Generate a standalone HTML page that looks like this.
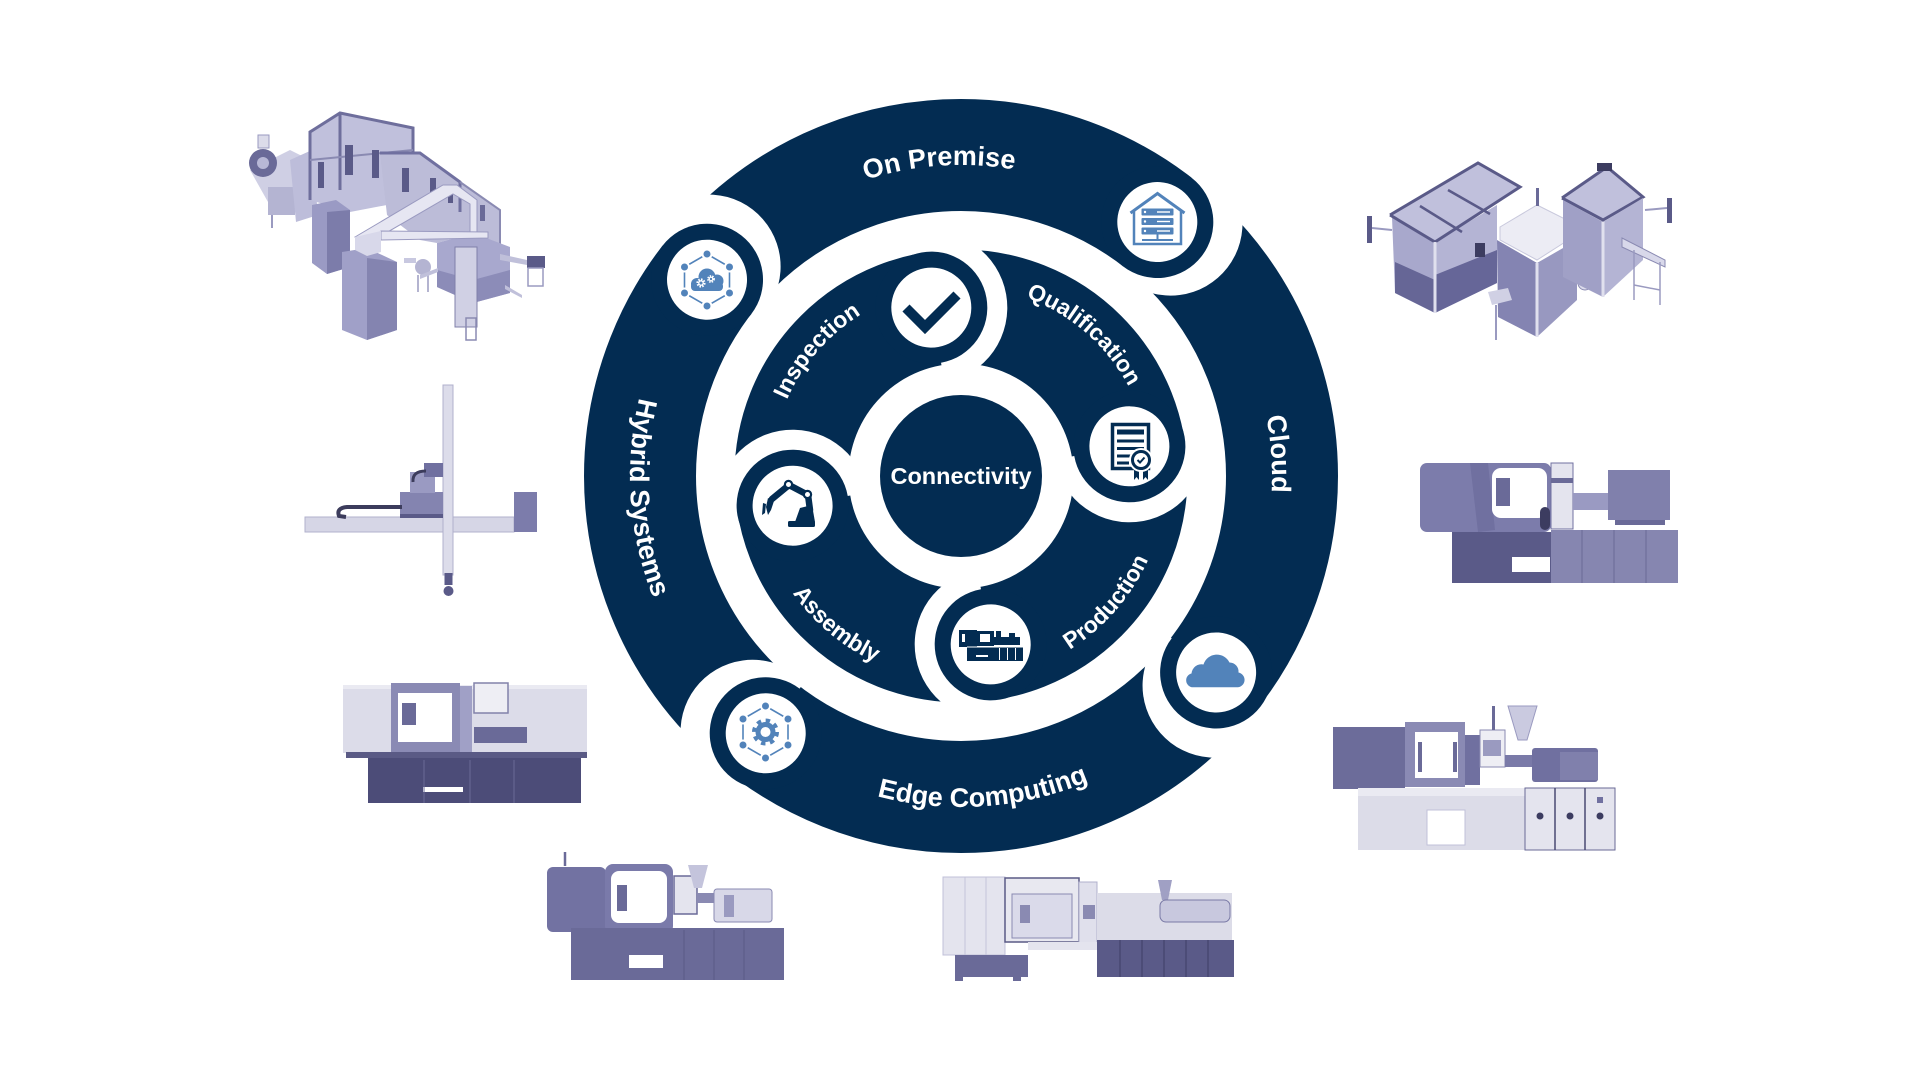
<!DOCTYPE html>
<html><head><meta charset="utf-8"><style>
html,body{margin:0;padding:0;background:#fff;}
svg{display:block;}
</style></head><body>
<svg width="1920" height="1080" viewBox="0 0 1920 1080" xmlns="http://www.w3.org/2000/svg">
<defs>
<clipPath id="cw"><rect x="961" y="476" width="520" height="420"/></clipPath>
<path id="pOn" d="M744.95,252.3 A311,311 0 0 1 1143.81,224.4"/>
<path id="pCl" d="M1184.7,259.95 A311,311 0 0 1 1212.6,658.81"/>
<path id="pEd" d="M766.44,743.78 A331,331 0 0 0 1190.95,714.09"/>
<path id="pHy" d="M693.22,281.44 A331,331 0 0 0 722.91,705.95"/>
<path id="pIn" d="M771.03,472.68 A190,190 0 0 1 931.28,288.34"/>
<path id="pQu" d="M964.32,286.03 A190,190 0 0 1 1148.66,446.28"/>
<path id="pPr" d="M993.07,678.48 A205,205 0 0 0 1165.97,479.58"/>
<path id="pAs" d="M759.11,511.6 A205,205 0 0 0 961,681"/>
</defs>

<!-- ================= MACHINES ================= -->
<!-- M1 top-left assembly line -->
<g>
 <polygon points="250,170 290,150 320,165 305,196 268,202" fill="#cfcfe4"/>
 <rect x="268" y="187" width="27" height="28" fill="#b4b4d2"/>
 <line x1="272" y1="215" x2="272" y2="228" stroke="#9a9ac0" stroke-width="2"/>
 <circle cx="263" cy="163" r="14" fill="#6a6a98"/><circle cx="263" cy="163" r="6" fill="#b8b8d6"/>
 <rect x="258" y="135" width="11" height="13" fill="#dcdcea" stroke="#9a9ac0"/>
 <polygon points="290,160 312,150 318,215 296,222" fill="#bdbdda"/>
 <polygon points="310,132 340,113 413,128 413,200 350,212 310,200" fill="#c0c0dc"/>
 <polyline points="310,200 310,132 340,113 413,128 413,200" fill="none" stroke="#6e6e9c" stroke-width="3"/>
 <line x1="340" y1="113" x2="340" y2="190" stroke="#6e6e9c" stroke-width="3"/>
 <line x1="310" y1="160" x2="413" y2="150" stroke="#8a8ab2" stroke-width="2"/>
 <rect x="345" y="145" width="8" height="30" fill="#5a5a88"/>
 <rect x="372" y="150" width="7" height="28" fill="#5a5a88"/>
 <rect x="318" y="162" width="6" height="26" fill="#5a5a88"/>
 <polygon points="380,153 420,153 500,210 500,245 473,233 437,243 420,240 387,215" fill="#bcbcd8"/>
 <polyline points="380,153 420,153 460,182 460,212" fill="none" stroke="#7070a0" stroke-width="3"/>
 <polyline points="460,182 500,210 500,245" fill="none" stroke="#8a8ab2" stroke-width="2"/>
 <rect x="402" y="168" width="7" height="24" fill="#5a5a88"/>
 <rect x="430" y="178" width="6" height="22" fill="#5a5a88"/>
 <rect x="448" y="185" width="5" height="18" fill="#5a5a88"/>
 <rect x="480" y="205" width="5" height="16" fill="#6a6a98"/>
 <polygon points="312,205 336,200 350,210 350,267 327,274 312,263" fill="#9a9ac4"/>
 <polygon points="327,212 350,210 350,267 327,274" fill="#7c7caa"/>
 <polygon points="437,243 473,233 510,247 510,293 473,303 437,287" fill="#a8a8ce"/>
 <polygon points="437,270 473,280 510,270 510,293 473,303 437,287" fill="#8c8cb8"/>
 <rect x="455" y="247" width="22" height="80" fill="#d0d0e4" stroke="#8080aa"/>
 <rect x="466" y="318" width="10" height="22" fill="none" stroke="#8a8ab2" stroke-width="1.5"/>
 <polygon points="342,252 367,248 397,262 397,330 367,340 342,330" fill="#a0a0c8"/>
 <polygon points="367,258 397,262 397,330 367,340" fill="#8484b0"/>
 <polygon points="355,237 443,185 457,185 477,200 477,233 470,233 470,204 453,194 367,244" fill="#e6e6f2" stroke="#9a9ac0" stroke-width="1"/>
 <polygon points="381,231 488,232 488,238 381,240" fill="#e6e6f2" stroke="#9a9ac0" stroke-width="1"/>
 <polygon points="355,237 381,231 381,252 367,256 355,250" fill="#d8d8ea"/>
 <circle cx="423" cy="267" r="8" fill="#b4b4d2"/>
 <line x1="418" y1="275" x2="418" y2="292" stroke="#9a9ac0" stroke-width="1.5"/>
 <line x1="428" y1="275" x2="428" y2="292" stroke="#9a9ac0" stroke-width="1.5"/>
 <rect x="404" y="258" width="12" height="5" fill="#c8c8e0"/>
 <rect x="527" y="256" width="18" height="12" fill="#5a5a88"/>
 <rect x="528" y="268" width="15" height="18" fill="none" stroke="#9a9ac0" stroke-width="1.5"/>
 <polygon points="500,254 527,260 527,265 500,260" fill="#c0c0da"/>
 <polygon points="420,275 438,268 438,272 420,279" fill="#c0c0da"/>
 <polygon points="505,285 522,295 522,298 505,289" fill="#c0c0da"/>
</g>

<!-- M2 linear robot -->
<g>
 <rect x="305" y="517" width="209" height="15" fill="#d6d6e6" stroke="#b2b2cc" stroke-width="1"/>
 <rect x="514" y="492" width="23" height="40" fill="#7c7cab"/>
 <rect x="443" y="385" width="10" height="190" fill="#dcdcea" stroke="#b0b0cc" stroke-width="1"/>
 <rect x="444.5" y="573" width="8" height="12" fill="#5a5a88"/>
 <circle cx="448.5" cy="591" r="5" fill="#5a5a88"/>
 <rect x="400" y="492" width="43" height="24" fill="#8484b0"/>
 <rect x="410" y="472" width="25" height="21" fill="#9a9ac2"/>
 <rect x="424" y="463" width="19" height="14" fill="#7070a0"/>
 <rect x="400" y="514" width="43" height="4" fill="#5a5a88"/>
 <path d="M402,507 L347,507 Q336,508 339,516 L346,517" fill="none" stroke="#3c3c5c" stroke-width="4"/>
 <path d="M426,471 Q412,471 413,482" fill="none" stroke="#3c3c5c" stroke-width="3"/>
</g>

<!-- M3 injection machine -->
<g>
 <rect x="343" y="685" width="244" height="68" fill="#dcdce9"/>
 <rect x="343" y="685" width="244" height="4" fill="#eaeaf2"/>
 <rect x="391" y="683" width="69" height="74" fill="#8a8ab4"/>
 <rect x="398" y="693" width="54" height="49" fill="#fff"/>
 <rect x="402" y="703" width="14" height="22" fill="#6a6a98"/>
 <rect x="460" y="686" width="12" height="68" fill="#a0a0c6"/>
 <rect x="474" y="683" width="34" height="30" fill="#eeeef4" stroke="#8282aa" stroke-width="1.5"/>
 <rect x="474" y="727" width="53" height="16" fill="#6a6a98"/>
 <rect x="346" y="752" width="241" height="6" fill="#5a5a85"/>
 <rect x="368" y="758" width="213" height="45" fill="#4c4c78"/>
 <rect x="423" y="787" width="40" height="5" fill="#fff"/>
 <line x1="424" y1="760" x2="424" y2="803" stroke="#6a6a96" stroke-width="1"/>
 <line x1="470" y1="760" x2="470" y2="803" stroke="#6a6a96" stroke-width="1"/>
 <line x1="514" y1="760" x2="514" y2="803" stroke="#6a6a96" stroke-width="1"/>
</g>

<!-- M4 bottom-left machine -->
<g>
 <line x1="565" y1="852" x2="565" y2="866" stroke="#6a6a98" stroke-width="2.5"/>
 <rect x="547" y="867" width="59" height="65" rx="6" fill="#7272a2"/>
 <rect x="605" y="864" width="68" height="70" rx="8" fill="#7a7aaa"/>
 <rect x="611" y="871" width="56" height="52" rx="8" fill="#fff"/>
 <rect x="617" y="885" width="10" height="26" fill="#6a6a98"/>
 <rect x="674" y="876" width="23" height="38" fill="#e4e4ee" stroke="#6a6a98" stroke-width="1.5"/>
 <polygon points="688,865 708,865 702,888 694,888" fill="#c4c4dc"/>
 <rect x="697" y="893" width="18" height="10" fill="#8a8ab2"/>
 <rect x="714" y="889" width="58" height="33" rx="3" fill="#d8d8e8" stroke="#8a8ab2"/>
 <rect x="724" y="895" width="10" height="22" fill="#9a9ac0"/>
 <rect x="571" y="928" width="213" height="52" fill="#6a6a98"/>
 <rect x="629" y="955" width="34" height="13" fill="#fff"/>
 <line x1="684" y1="930" x2="684" y2="980" stroke="#5a5a86" stroke-width="1"/>
 <line x1="714" y1="930" x2="714" y2="980" stroke="#5a5a86" stroke-width="1"/>
 <line x1="744" y1="930" x2="744" y2="980" stroke="#5a5a86" stroke-width="1"/>
</g>

<!-- M5 bottom-center machine -->
<g>
 <rect x="943" y="877" width="62" height="78" fill="#e4e4ee" stroke="#c0c0d8"/>
 <line x1="965" y1="877" x2="965" y2="955" stroke="#c4c4da"/>
 <line x1="986" y1="877" x2="986" y2="955" stroke="#c4c4da"/>
 <rect x="1005" y="878" width="74" height="64" fill="#e8e8f0" stroke="#5a5a86" stroke-width="1.5"/>
 <rect x="1012" y="894" width="60" height="44" fill="#dadaea" stroke="#8a8ab2"/>
 <rect x="1020" y="905" width="10" height="18" fill="#8a8ab2"/>
 <rect x="1079" y="882" width="18" height="62" fill="#e0e0ec" stroke="#b0b0cc"/>
 <rect x="1083" y="905" width="12" height="14" fill="#8a8ab2"/>
 <rect x="1097" y="893" width="135" height="47" fill="#dcdce8"/>
 <polygon points="1158,880 1172,880 1168,900 1162,900" fill="#a0a0c4"/>
 <rect x="1160" y="900" width="70" height="22" rx="6" fill="#c8c8de" stroke="#7a7aa6"/>
 <rect x="1097" y="940" width="137" height="37" fill="#5a5a88"/>
 <line x1="1120" y1="940" x2="1120" y2="977" stroke="#3e3e66"/>
 <line x1="1142" y1="940" x2="1142" y2="977" stroke="#3e3e66"/>
 <line x1="1164" y1="940" x2="1164" y2="977" stroke="#3e3e66"/>
 <line x1="1186" y1="940" x2="1186" y2="977" stroke="#3e3e66"/>
 <line x1="1208" y1="940" x2="1208" y2="977" stroke="#3e3e66"/>
 <rect x="955" y="955" width="73" height="22" fill="#6a6a98"/>
 <rect x="1028" y="942" width="69" height="8" fill="#e4e4ee"/>
 <rect x="955" y="977" width="8" height="4" fill="#6a6a98"/>
 <rect x="1013" y="977" width="8" height="4" fill="#6a6a98"/>
</g>

<!-- M6 top-right cell -->
<g>
 <rect x="1367" y="216" width="5" height="27" fill="#5a5a88"/>
 <line x1="1372" y1="228" x2="1392" y2="230" stroke="#9a9ac0" stroke-width="2"/>
 <polygon points="1390,215 1478,163 1520,187 1435,242" fill="#c0c0dc"/>
 <polygon points="1392,217 1435,242 1435,313 1395,293" fill="#a8a8cc"/>
 <polygon points="1395,262 1435,280 1435,313 1395,293" fill="#666696"/>
 <polygon points="1435,242 1497,205 1497,283 1435,313" fill="#b4b4d4"/>
 <polygon points="1435,275 1497,250 1497,283 1435,313" fill="#666698"/>
 <polyline points="1390,215 1478,163 1520,187 1435,242 1390,215" fill="none" stroke="#5a5a88" stroke-width="3"/>
 <line x1="1435" y1="242" x2="1435" y2="313" stroke="#e0e0ee" stroke-width="3"/>
 <line x1="1420" y1="206" x2="1462" y2="232" stroke="#5a5a88" stroke-width="2.5"/>
 <line x1="1448" y1="190" x2="1490" y2="214" stroke="#5a5a88" stroke-width="2.5"/>
 <rect x="1475" y="243" width="10" height="14" fill="#3c3c60"/>
 <polygon points="1500,227 1537,205 1573,223 1573,237 1537,260 1500,240" fill="#ececf4" stroke="#c8c8dc"/>
 <polygon points="1497,240 1537,263 1537,337 1498,317" fill="#8484b2"/>
 <polygon points="1537,263 1577,240 1577,300 1537,337" fill="#9898c0"/>
 <line x1="1537" y1="263" x2="1537" y2="337" stroke="#e0e0ee" stroke-width="3"/>
 <rect x="1536" y="188" width="3" height="18" fill="#6a6a98"/>
 <polygon points="1488,292 1508,288 1512,300 1492,305" fill="#d0d0e4"/>
 <line x1="1496" y1="305" x2="1496" y2="340" stroke="#9a9ac0" stroke-width="2"/>
 <circle cx="1585" cy="283" r="7" fill="#dcdcec" stroke="#8a8ab2"/>
 <polygon points="1562,198 1607,167 1643,197 1603,220" fill="#c0c0dc"/>
 <polyline points="1562,198 1607,167 1643,197 1603,220 1562,198" fill="none" stroke="#5a5a88" stroke-width="3"/>
 <polygon points="1563,200 1603,222 1603,297 1563,277" fill="#a0a0c6"/>
 <polygon points="1603,222 1643,198 1643,260 1603,297" fill="#b4b4d4"/>
 <line x1="1603" y1="222" x2="1603" y2="297" stroke="#e0e0ee" stroke-width="3"/>
 <rect x="1597" y="163" width="15" height="8" fill="#3c3c60"/>
 <polygon points="1622,238 1665,260 1665,267 1622,247" fill="#d8d8ea" stroke="#8a8ab2"/>
 <line x1="1634" y1="250" x2="1634" y2="300" stroke="#9a9ac0" stroke-width="1.5"/>
 <line x1="1660" y1="262" x2="1660" y2="305" stroke="#9a9ac0" stroke-width="1.5"/>
 <line x1="1634" y1="285" x2="1660" y2="290" stroke="#9a9ac0" stroke-width="1.5"/>
 <rect x="1667" y="198" width="5" height="25" fill="#5a5a88"/>
 <line x1="1645" y1="210" x2="1667" y2="208" stroke="#9a9ac0" stroke-width="2"/>
</g>

<!-- M7 right middle machine -->
<g>
 <rect x="1420" y="463" width="131" height="69" rx="7" fill="#7c7cab"/>
 <polygon points="1470,463 1488,463 1495,530 1478,532" fill="#7070a0"/>
 <rect x="1492" y="468" width="55" height="50" rx="9" fill="#fff"/>
 <rect x="1496" y="478" width="14" height="28" fill="#6a6a98"/>
 <rect x="1540" y="507" width="10" height="23" rx="5" fill="#3c3c60"/>
 <rect x="1551" y="463" width="22" height="66" fill="#e4e4ee" stroke="#7070a0"/>
 <rect x="1551" y="478" width="22" height="5" fill="#6a6a98"/>
 <rect x="1573" y="493" width="36" height="17" fill="#9a9ac2"/>
 <rect x="1608" y="470" width="62" height="50" fill="#8080ac"/>
 <rect x="1615" y="520" width="50" height="5" fill="#6a6a98"/>
 <rect x="1452" y="532" width="99" height="51" fill="#5a5a88"/>
 <rect x="1512" y="557" width="38" height="15" fill="#fff"/>
 <rect x="1551" y="530" width="127" height="53" fill="#8686b0"/>
 <line x1="1582" y1="530" x2="1582" y2="583" stroke="#6a6a96"/>
 <line x1="1614" y1="530" x2="1614" y2="583" stroke="#6a6a96"/>
 <line x1="1646" y1="530" x2="1646" y2="583" stroke="#6a6a96"/>
</g>

<!-- M8 right bottom machine -->
<g>
 <rect x="1333" y="727" width="72" height="62" fill="#6c6c9a"/>
 <rect x="1405" y="722" width="60" height="65" fill="#8a8ab4"/>
 <rect x="1415" y="732" width="43" height="46" fill="#fff"/>
 <rect x="1418" y="742" width="4" height="30" fill="#6a6a98"/>
 <rect x="1453" y="742" width="4" height="30" fill="#6a6a98"/>
 <rect x="1465" y="735" width="15" height="50" fill="#7070a0"/>
 <rect x="1480" y="730" width="25" height="37" fill="#eeeef4" stroke="#8a8ab2"/>
 <rect x="1483" y="740" width="18" height="16" fill="#9a9ac0"/>
 <rect x="1492" y="706" width="3" height="24" fill="#6a6a98"/>
 <polygon points="1508,706 1537,706 1527,740 1518,740" fill="#cacae0" stroke="#9a9ac0"/>
 <rect x="1505" y="755" width="28" height="12" fill="#7a7aa8"/>
 <rect x="1532" y="748" width="66" height="34" rx="3" fill="#7070a0"/>
 <rect x="1560" y="752" width="38" height="28" fill="#8080ac"/>
 <rect x="1358" y="788" width="167" height="62" fill="#dcdce8"/>
 <rect x="1358" y="788" width="167" height="8" fill="#eaeaf2"/>
 <rect x="1427" y="810" width="38" height="35" fill="#fff" stroke="#c0c0d8"/>
 <rect x="1525" y="788" width="90" height="62" fill="#e4e4ee" stroke="#6a6a96"/>
 <line x1="1555" y1="788" x2="1555" y2="850" stroke="#4a4a72" stroke-width="1.5"/>
 <line x1="1585" y1="788" x2="1585" y2="850" stroke="#4a4a72" stroke-width="1.5"/>
 <circle cx="1540" cy="816" r="3.5" fill="#3c3c60"/>
 <circle cx="1570" cy="816" r="3.5" fill="#3c3c60"/>
 <circle cx="1600" cy="816" r="3.5" fill="#3c3c60"/>
 <rect x="1597" y="797" width="6" height="6" fill="#7070a0"/>
</g>

<!-- ================= RINGS ================= -->
<circle cx="961" cy="476" r="321" fill="none" stroke="#032c52" stroke-width="112"/>
<circle cx="961" cy="476" r="169.5" fill="none" stroke="#032c52" stroke-width="114"/>
<circle cx="961" cy="476" r="81" fill="#032c52"/>

<!-- outer bulbs -->
<g transform="rotate(-52.3 961 476)">
 <circle cx="1288.8" cy="487.4" r="72" fill="#fff" clip-path="url(#cw)"/>
 <circle cx="1282" cy="476" r="56" fill="#032c52"/>
 <circle cx="1282" cy="476" r="40" fill="#fff"/>
</g>
<g transform="rotate(37.6 961 476)">
 <circle cx="1289.8" cy="487.4" r="72" fill="#fff" clip-path="url(#cw)"/>
 <circle cx="1283" cy="476" r="56" fill="#032c52"/>
 <circle cx="1283" cy="476" r="40" fill="#fff"/>
</g>
<g transform="rotate(127.2 961 476)">
 <circle cx="1290.8" cy="487.4" r="72" fill="#fff" clip-path="url(#cw)"/>
 <circle cx="1284" cy="476" r="56" fill="#032c52"/>
 <circle cx="1284" cy="476" r="40" fill="#fff"/>
</g>
<g transform="rotate(217.7 961 476)">
 <circle cx="1288.8" cy="487.4" r="72" fill="#fff" clip-path="url(#cw)"/>
 <circle cx="1282" cy="476" r="56" fill="#032c52"/>
 <circle cx="1282" cy="476" r="40" fill="#fff"/>
</g>

<!-- middle bulbs -->
<g transform="rotate(-100 961 476)">
 <circle cx="1132" cy="476" r="76" fill="#fff" clip-path="url(#cw)"/>
 <circle cx="1132" cy="476" r="56" fill="#032c52"/>
 <circle cx="1132" cy="476" r="40" fill="#fff"/>
</g>
<g transform="rotate(-10 961 476)">
 <circle cx="1132" cy="476" r="76" fill="#fff" clip-path="url(#cw)"/>
 <circle cx="1132" cy="476" r="56" fill="#032c52"/>
 <circle cx="1132" cy="476" r="40" fill="#fff"/>
</g>
<g transform="rotate(80 961 476)">
 <circle cx="1132" cy="476" r="76" fill="#fff" clip-path="url(#cw)"/>
 <circle cx="1132" cy="476" r="56" fill="#032c52"/>
 <circle cx="1132" cy="476" r="40" fill="#fff"/>
</g>
<g transform="rotate(170 961 476)">
 <circle cx="1132" cy="476" r="76" fill="#fff" clip-path="url(#cw)"/>
 <circle cx="1132" cy="476" r="56" fill="#032c52"/>
 <circle cx="1132" cy="476" r="40" fill="#fff"/>
</g>

<!-- ================= ICONS ================= -->
<!-- house / on premise -->
<g fill="none" stroke="#5283ba" stroke-width="3">
 <polyline points="1130.5,213 1157.5,193.5 1184.5,213"/>
 <polyline points="1134,211 1134,244 1181,244 1181,211" stroke-width="2.5"/>
 <line x1="1157.5" y1="234" x2="1157.5" y2="240" stroke-width="2"/>
 <line x1="1142" y1="240" x2="1173" y2="240" stroke-width="2"/>
</g>
<g fill="#5283ba">
 <rect x="1141.5" y="208.5" width="32" height="7" rx="1"/>
 <rect x="1141.5" y="218" width="32" height="7" rx="1"/>
 <rect x="1141.5" y="227.5" width="32" height="7" rx="1"/>
</g>
<g fill="#fff">
 <circle cx="1145" cy="212" r="1.2"/><circle cx="1145" cy="221.5" r="1.2"/><circle cx="1145" cy="231" r="1.2"/>
 <rect x="1157" y="211.3" width="13" height="1.4"/><rect x="1157" y="220.8" width="13" height="1.4"/><rect x="1157" y="230.3" width="13" height="1.4"/>
</g>

<!-- cloud -->
<path d="M1193,687.3 a7,7 0 0 1 -1.5,-13.8 a10,10 0 0 1 12,-9 a14,14 0 0 1 26,-2 a9,9 0 0 1 9,10 a7.5,7.5 0 0 1 -0.5,14.8 z" fill="#5283ba"/>

<!-- hybrid icon -->
<g stroke="#5283ba" stroke-width="1.6" fill="none">
 <polygon points="707,254 729.5,267 729.5,293 707,306 684.5,293 684.5,267"/>
</g>
<g fill="#5283ba" stroke="#fff" stroke-width="2">
 <circle cx="707" cy="254" r="4.5"/><circle cx="729.5" cy="267" r="4.5"/><circle cx="729.5" cy="293" r="4.5"/>
 <circle cx="707" cy="306" r="4.5"/><circle cx="684.5" cy="293" r="4.5"/><circle cx="684.5" cy="267" r="4.5"/>
</g>
<g fill="#5283ba">
 <circle cx="697" cy="284" r="6"/><circle cx="707" cy="277" r="8.5"/><circle cx="717" cy="281" r="6.5"/>
 <rect x="691" y="282" width="32" height="9" rx="4"/>
</g>
<circle cx="701" cy="283" r="3.6" fill="none" stroke="#fff" stroke-width="2" stroke-dasharray="1.6 1.2"/>
<circle cx="701" cy="283" r="2.2" fill="none" stroke="#fff" stroke-width="1.3"/>
<circle cx="711" cy="279" r="3" fill="none" stroke="#fff" stroke-width="1.8" stroke-dasharray="1.4 1.1"/>
<circle cx="711" cy="279" r="1.8" fill="none" stroke="#fff" stroke-width="1.2"/>

<!-- edge icon -->
<g stroke="#5283ba" stroke-width="1.6" fill="none">
 <polygon points="765.5,706 788,719 788,745 765.5,758 743,745 743,719"/>
</g>
<g fill="#5283ba" stroke="#fff" stroke-width="2">
 <circle cx="765.5" cy="706" r="4.5"/><circle cx="788" cy="719" r="4.5"/><circle cx="788" cy="745" r="4.5"/>
 <circle cx="765.5" cy="758" r="4.5"/><circle cx="743" cy="745" r="4.5"/><circle cx="743" cy="719" r="4.5"/>
</g>
<circle cx="765.5" cy="732" r="11.5" fill="none" stroke="#5283ba" stroke-width="4" stroke-dasharray="4.4 4.6"/>
<circle cx="765.5" cy="732" r="10" fill="#5283ba"/>
<circle cx="765.5" cy="732" r="5" fill="#fff"/>

<!-- check -->
<polyline points="906,308 925,327 957,295" fill="none" stroke="#032c52" stroke-width="10" stroke-linejoin="miter"/>

<!-- certificate -->
<rect x="1112.5" y="424.5" width="36" height="44" fill="#fff" stroke="#032c52" stroke-width="3.5"/>
<rect x="1117" y="429.5" width="27" height="5" fill="#032c52"/>
<g stroke="#032c52" stroke-width="3">
 <line x1="1117" y1="441" x2="1144" y2="441"/>
 <line x1="1117" y1="448.5" x2="1144" y2="448.5"/>
 <line x1="1117" y1="456" x2="1131" y2="456"/>
 <line x1="1117" y1="463" x2="1129" y2="463"/>
</g>
<polygon points="1134,466 1139,466 1139,480 1136.5,477 1134,480" fill="#032c52"/>
<polygon points="1143,466 1148,466 1148,480 1145.5,477 1143,480" fill="#032c52"/>
<circle cx="1141" cy="460" r="11" fill="#032c52" stroke="#fff" stroke-width="2"/>
<circle cx="1141" cy="460" r="7" fill="#fff"/>
<polyline points="1137.5,460 1140,462.5 1144.5,457.5" fill="none" stroke="#032c52" stroke-width="2"/>

<!-- machine icon -->
<g fill="#032c52">
 <rect x="959" y="630" width="18" height="17"/>
 <rect x="977" y="631" width="17" height="15"/>
 <rect x="994" y="637" width="26" height="8"/>
 <rect x="996" y="631" width="5" height="6"/>
 <rect x="1009" y="633" width="6" height="4"/>
 <rect x="967" y="647" width="56" height="14"/>
</g>
<g fill="#fff">
 <rect x="980" y="634" width="10" height="8"/>
 <rect x="962" y="634" width="3" height="8"/>
 <rect x="976" y="655" width="12" height="2"/>
 <rect x="999" y="648" width="1" height="12"/>
 <rect x="1007" y="648" width="1" height="12"/>
 <rect x="1015" y="648" width="1" height="12"/>
 <rect x="967" y="646.5" width="56" height="1"/>
</g>

<!-- robot icon -->
<g fill="#032c52">
 <rect x="788" y="521" width="27" height="6" rx="1.5"/>
 <polygon points="795,522 800,508 812,505 815,522"/>
</g>
<g stroke="#032c52" stroke-width="6.5" stroke-linecap="round" fill="none">
 <line x1="808" y1="495" x2="810" y2="510"/>
 <line x1="808" y1="495" x2="789" y2="485"/>
 <line x1="789" y1="485" x2="772" y2="499"/>
</g>
<polygon points="768,498 774,501 771,510 768,515 766,507" fill="#032c52"/>
<polygon points="763,503 766,504 765,513 762,515" fill="#032c52"/>
<circle cx="807.5" cy="494.5" r="3.6" fill="#fff" stroke="#032c52" stroke-width="2.2"/>
<circle cx="788.5" cy="484.5" r="3.6" fill="#fff" stroke="#032c52" stroke-width="2.2"/>

<!-- ================= TEXT ================= -->
<g font-family="'Liberation Sans', Arial, sans-serif" font-weight="bold" fill="#fff">
 <text font-size="27"><textPath href="#pOn" startOffset="50%" text-anchor="middle">On Premise</textPath></text>
 <text font-size="27"><textPath href="#pCl" startOffset="50%" text-anchor="middle">Cloud</textPath></text>
 <text font-size="27"><textPath href="#pEd" startOffset="50%" text-anchor="middle">Edge Computing</textPath></text>
 <text font-size="27"><textPath href="#pHy" startOffset="50%" text-anchor="middle">Hybrid Systems</textPath></text>
 <text font-size="23"><textPath href="#pIn" startOffset="50%" text-anchor="middle">Inspection</textPath></text>
 <text font-size="23"><textPath href="#pQu" startOffset="50%" text-anchor="middle">Qualification</textPath></text>
 <text font-size="23"><textPath href="#pPr" startOffset="50%" text-anchor="middle">Production</textPath></text>
 <text font-size="23"><textPath href="#pAs" startOffset="50%" text-anchor="middle">Assembly</textPath></text>
 <text x="961" y="484" font-size="23.5" text-anchor="middle">Connectivity</text>
</g>
</svg>
</body></html>
